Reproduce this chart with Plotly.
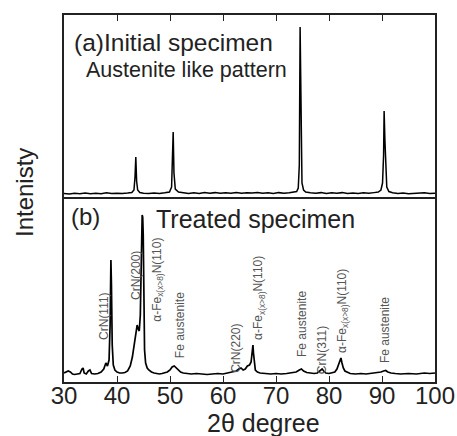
import plotly.graph_objects as go

# ---- data ----
# (a) initial specimen: 2theta and intensity (arbitrary units)
top_2theta = [30.0, 31.0, 32.0, 33.0, 34.0, 35.0, 36.0, 37.0, 38.0, 39.0, 40.0, 41.0, 42.0,
              42.8, 43.2, 43.4, 43.55, 43.7, 43.9, 44.3, 45.0, 46.0, 47.0, 48.0, 49.0, 49.9,
              50.3, 50.5, 50.6, 50.75, 51.0, 51.6, 52.5, 53.5, 54.5, 55.5, 56.5, 57.5, 58.5,
              59.5, 60.5, 61.5, 62.5, 63.5, 64.5, 65.5, 66.5, 67.5, 68.5, 69.5, 70.5, 71.5,
              72.5, 73.3, 73.9, 74.2, 74.4, 74.55, 74.65, 74.75, 74.9, 75.2, 75.6, 76.5, 77.5,
              78.5, 79.5, 80.5, 81.5, 82.5, 83.5, 84.5, 85.5, 86.5, 87.5, 88.5, 89.3, 89.8,
              90.1, 90.3, 90.4, 90.55, 90.7, 90.9, 91.3, 92.0, 93.0, 94.0, 95.0, 96.0, 97.0,
              98.0, 99.0, 100.0]
top_int = [1.5, 1.0, 1.8, 1.2, 2.0, 1.4, 1.8, 1.2, 2.2, 1.6, 1.8, 1.5, 2.0,
           2.5, 5, 18, 38, 14, 5, 2.5, 1.8, 1.5, 2.0, 1.6, 2.2, 3,
           8, 38, 63, 22, 6, 3, 2.0, 1.5, 2.2, 1.6, 2.5, 1.8, 2.4,
           1.7, 2.3, 1.9, 2.6, 1.8, 2.4, 2.0, 2.6, 1.8, 2.2, 1.6, 2.4, 1.8,
           2.2, 2.6, 3.5, 7, 30, 168, 110, 40, 12, 5, 3, 2.2, 1.8,
           2.4, 1.6, 2.2, 1.8, 2.4, 1.5, 2.0, 1.6, 2.2, 1.7, 2.4, 3, 5,
           12, 40, 84, 55, 22, 8, 3.5, 2.2, 1.6, 2.0, 1.4, 1.8, 1.5,
           2.2, 1.6, 1.8]

# (b) treated specimen
bot_2theta = [30.0, 30.4, 30.8, 31.2, 31.6, 32.0, 32.5, 33.0, 33.4, 33.6, 33.8, 34.2, 34.6,
              34.9, 35.2, 35.8, 36.4, 37.0, 37.5, 37.9, 38.2, 38.5, 38.7, 38.85, 38.95, 39.1,
              39.3, 39.6, 40.0, 40.5, 41.0, 41.5, 42.0, 42.5, 42.9, 43.2, 43.5, 43.8, 44.0,
              44.2, 44.4, 44.6, 44.75, 44.85, 44.95, 45.05, 45.2, 45.4, 45.7, 46.0, 46.5,
              47.0, 47.5, 48.0, 48.5, 49.0, 49.5, 50.0, 50.4, 50.8, 51.2, 51.6, 52.0, 52.5,
              53.0, 54.0, 55.0, 56.0, 57.0, 58.0, 59.0, 60.0, 61.0, 61.8, 62.5, 63.0, 63.4,
              63.8, 64.2, 64.6, 65.0, 65.3, 65.5, 65.65, 65.75, 65.9, 66.1, 66.5, 67.0, 68.0,
              69.0, 70.0, 71.0, 72.0, 73.0, 73.8, 74.4, 74.8, 75.2, 75.8, 76.5, 77.2, 77.8,
              78.3, 78.7, 79.0, 79.4, 80.0, 80.6, 81.1, 81.5, 81.8, 82.05, 82.25, 82.45, 82.7,
              83.0, 83.5, 84.0, 85.0, 86.0, 87.0, 88.0, 89.0, 89.8, 90.3, 90.7, 91.1, 91.7,
              92.5, 93.5, 95.0, 96.5, 98.0, 99.0, 100.0]
bot_int = [2, 3, 4, 3, 1, 0.5, 1, 1.5, 6, 7, 2, 1, 4,
           5, 1.5, 1, 1.5, 3, 6, 12, 9, 15, 50, 115, 90, 30,
           10, 5, 3, 2, 2, 2.5, 4, 9, 18, 30, 42, 50, 46,
           44, 60, 120, 160, 158, 140, 60, 25, 12, 7, 5, 3,
           2, 1.5, 1, 1.5, 2, 3, 5, 8, 9, 7, 4, 3, 2,
           1.5, 1, 1.5, 1, 0.5, 1, 1.5, 1, 2, 3, 4, 6, 7,
           5, 6, 9, 10, 13, 20, 30, 22, 10, 5, 3, 2, 1.5,
           1, 1.5, 1, 1.5, 2, 3, 5, 6, 4, 2.5, 2, 1.5, 2,
           4, 6, 4, 2, 1.5, 2, 3, 6, 10, 14, 17, 12, 7,
           4, 2.5, 1.5, 1, 1.5, 1, 1.5, 2, 3, 4, 4.5, 3, 2,
           1.5, 1, 1.5, 1, 2, 1.5, 2]

x_ticks = [30, 40, 50, 60, 70, 80, 90, 100]

# peak labels: (text, 2theta position, vertical centre in paper units)
peak_labels = ["CrN(111)", "CrN(200)", "α-Fe<sub>x(x&gt;8)</sub>N(110)", "Fe austenite",
               "CrN(220)", "α-Fe<sub>x(x&gt;8)</sub>N(110)", "Fe austenite",
               "CrN(311)", "α-Fe<sub>x(x&gt;8)</sub>N(110)", "Fe austenite"]
label_x = [37.55, 43.6, 47.7, 51.9, 62.45, 66.8, 74.9, 78.7, 82.6, 90.6]
label_y = [0.18, 0.289, 0.278, 0.155, 0.093, 0.229, 0.158, 0.087, 0.193, 0.142]

FONT = "Arial, 'Liberation Sans', sans-serif"

fig = go.Figure()
fig.add_trace(go.Scatter(x=top_2theta, y=top_int, mode="lines",
                         line=dict(color="black", width=1.5), xaxis="x2", yaxis="y2",
                         showlegend=False, hoverinfo="skip"))
fig.add_trace(go.Scatter(x=bot_2theta, y=bot_int, mode="lines",
                         line=dict(color="black", width=1.7), xaxis="x", yaxis="y",
                         showlegend=False, hoverinfo="skip"))

split = 0.504
axis_common = dict(showgrid=False, zeroline=False, showline=True, linecolor="#222",
                   linewidth=1.5)

fig.update_layout(
    width=457, height=436,
    margin=dict(l=64, r=22, t=15, b=54),
    paper_bgcolor="white", plot_bgcolor="white",
    font=dict(family=FONT, color="#222"),
    xaxis=dict(domain=[0, 1], range=[30, 100], anchor="y", mirror=False,
               tickmode="array", tickvals=x_ticks, ticktext=[str(v) for v in x_ticks],
               ticks="inside", ticklen=6, tickwidth=1.3, tickcolor="#222",
               ticklabelstandoff=-9, automargin=False,
               tickfont=dict(size=24, family=FONT, color="#222"), **axis_common),
    yaxis=dict(domain=[0, split], range=[-7, 178], anchor="x", mirror=True,
               showticklabels=False, ticks="", **axis_common),
    xaxis2=dict(domain=[0, 1], range=[30, 100], anchor="y2", side="top", mirror=True,
                tickmode="array", tickvals=x_ticks, showticklabels=False,
                ticks="inside", ticklen=6, tickwidth=1.3, tickcolor="#222", **axis_common),
    yaxis2=dict(domain=[split, 1], range=[-2, 180], anchor="x2", mirror=True,
                showticklabels=False, ticks="", **axis_common),
)

ann = []
ann.append(dict(text="2θ degree", xref="paper", yref="paper", x=0.539, y=-0.112,
                xanchor="center", yanchor="middle", showarrow=False,
                font=dict(size=25, family=FONT, color="#222")))
ann.append(dict(text="Intenisty", xref="paper", yref="paper", x=-0.105, y=0.515,
                xanchor="center", yanchor="middle", textangle=-90, showarrow=False,
                font=dict(size=24, family=FONT, color="#222")))
ann.append(dict(text="(a)Initial specimen", xref="paper", yref="paper", x=0.022, y=0.924,
                xanchor="left", yanchor="middle", showarrow=False,
                font=dict(size=24.5, family=FONT, color="#222")))
ann.append(dict(text="Austenite like pattern", xref="paper", yref="paper", x=0.055, y=0.849,
                xanchor="left", yanchor="middle", showarrow=False,
                font=dict(size=21.5, family=FONT, color="#222")))
ann.append(dict(text="(b)", xref="paper", yref="paper", x=0.014, y=0.452,
                xanchor="left", yanchor="middle", showarrow=False,
                font=dict(size=24, family=FONT, color="#222")))
ann.append(dict(text="Treated specimen", xref="paper", yref="paper", x=0.243, y=0.444,
                xanchor="left", yanchor="middle", showarrow=False,
                font=dict(size=25, family=FONT, color="#222")))
for t, lx, ly in zip(peak_labels, label_x, label_y):
    ann.append(dict(text=t, xref="x", yref="paper", x=lx, y=ly, textangle=-90,
                    xanchor="center", yanchor="middle", showarrow=False,
                    font=dict(size=12, family=FONT, color="#555")))
fig.update_layout(annotations=ann)

fig.write_html("out.html", config={"displayModeBar": False},
               post_script="document.body.style.margin='0';document.body.style.overflow='hidden';")
